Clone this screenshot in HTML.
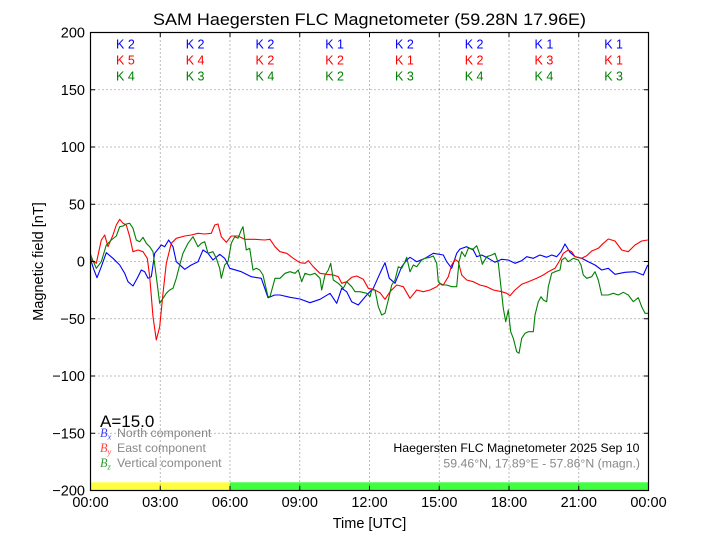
<!DOCTYPE html>
<html><head><meta charset="utf-8"><style>
html,body{margin:0;padding:0;background:#fff;}
svg{display:block;font-family:"Liberation Sans",Arial,sans-serif;}
</style></head><body>
<svg width="720" height="540" viewBox="0 0 720 540" xmlns="http://www.w3.org/2000/svg">
<rect width="720" height="540" fill="#fff"/>
<!-- status bar -->
<rect x="90.5" y="482.3" width="139.5" height="8.2" fill="#ffff40"/>
<rect x="230" y="482.3" width="418.5" height="8.2" fill="#40ff40"/>
<!-- grid -->
<g stroke="#555" stroke-width="0.8" stroke-dasharray="1,3" fill="none">
<line x1="160.25" y1="32.5" x2="160.25" y2="490.5"/>
<line x1="230" y1="32.5" x2="230" y2="490.5"/>
<line x1="299.75" y1="32.5" x2="299.75" y2="490.5"/>
<line x1="369.5" y1="32.5" x2="369.5" y2="490.5"/>
<line x1="439.25" y1="32.5" x2="439.25" y2="490.5"/>
<line x1="509" y1="32.5" x2="509" y2="490.5"/>
<line x1="578.75" y1="32.5" x2="578.75" y2="490.5"/>
<line x1="90.5" y1="89.75" x2="648.5" y2="89.75"/>
<line x1="90.5" y1="147" x2="648.5" y2="147"/>
<line x1="90.5" y1="204.25" x2="648.5" y2="204.25"/>
<line x1="90.5" y1="261.5" x2="648.5" y2="261.5"/>
<line x1="90.5" y1="318.75" x2="648.5" y2="318.75"/>
<line x1="90.5" y1="376" x2="648.5" y2="376"/>
<line x1="90.5" y1="433.25" x2="648.5" y2="433.25"/>
</g>
<!-- K indices -->
<g font-size="12.5" text-anchor="middle">
<g fill="#0000ff">
<text x="125.4" y="48.5">K 2</text><text x="195.1" y="48.5">K 2</text><text x="264.9" y="48.5">K 2</text><text x="334.6" y="48.5">K 1</text>
<text x="404.4" y="48.5">K 2</text><text x="474.1" y="48.5">K 2</text><text x="543.9" y="48.5">K 1</text><text x="613.6" y="48.5">K 1</text>
</g>
<g fill="#ff0000">
<text x="125.4" y="64.7">K 5</text><text x="195.1" y="64.7">K 4</text><text x="264.9" y="64.7">K 2</text><text x="334.6" y="64.7">K 2</text>
<text x="404.4" y="64.7">K 1</text><text x="474.1" y="64.7">K 2</text><text x="543.9" y="64.7">K 3</text><text x="613.6" y="64.7">K 1</text>
</g>
<g fill="#008000">
<text x="125.4" y="80.7">K 4</text><text x="195.1" y="80.7">K 3</text><text x="264.9" y="80.7">K 4</text><text x="334.6" y="80.7">K 2</text>
<text x="404.4" y="80.7">K 3</text><text x="474.1" y="80.7">K 4</text><text x="543.9" y="80.7">K 4</text><text x="613.6" y="80.7">K 3</text>
</g>
</g>
<!-- data -->
<g fill="none" stroke-width="1.1" stroke-linejoin="round">
<polyline stroke="#0000ff" points="90.5,258 91.3,261.7 94,270 97,277.7 101.3,266.7 106.3,252.7 113,258.3 119.7,265 124.7,273.3 128,281.7 133,286 138,276.7 141.3,270 144.7,271.7 148,278.3 151.3,276.7 154.7,253.3 161.3,245 164.7,246.7 168.7,240 173,246.7 176.3,261.7 184.7,269.3 191.3,265 198,261.7 203,250 208,253.3 213,260 219.7,254.3 224.7,258.3 229.7,268.3 241.3,271.7 251.3,276.7 261.3,278.3 268,297.7 274.7,295 280,295 290,297.3 300,299 310,302.7 320,299.3 330,293.3 336.7,303.3 341.7,288.3 346.7,291.7 351.7,301.7 358.3,305 366.7,295 373.3,288.3 380,273.3 385,262.7 389.3,278.3 395,283.3 401.7,266.7 406.7,260 410,257.3 416.7,261.7 425,258.3 433.3,253.3 443.3,255 446.7,261.7 451.7,268.3 456.7,253.3 460,249 466.7,246.7 473.3,250 476.7,256.7 481.7,255 488.3,258.3 495,262.3 501.7,259.3 508.3,260 515,263.3 521.7,260.7 526.7,256.7 533.3,258.3 540,255 546.7,257.3 551.7,255 556.7,256.7 561,251.7 565,244 570,252.3 575,256.7 581.7,258.3 588.3,261.7 595,265 601.7,270 608.3,268.3 615,274.3 625,272.3 635,271.7 643.3,275 647.7,265"/>
<polyline stroke="#ff0000" points="90.5,258 91.3,260 96.3,263.3 101.3,240 104.7,235 108,246.7 113,235 116.3,225 119.7,219.3 123,223.3 126.3,225 129.7,236.7 133,251.7 138,250 143,251.7 147.3,258.3 149.7,276.7 153,316.7 156.3,340 159.7,326.7 163,293.3 166.3,263.3 171.3,243.3 176.3,238.3 184.7,236 191.3,235 198,233.3 204.7,234 211.3,233.3 214.7,225 218,224 221.3,236.7 226.3,242.3 231.3,236 238,236 244.7,239.3 254.7,239.3 264.7,240 270,239.3 275,246.7 280,251.7 286.7,253.3 293.3,258.3 300,262.7 305,263.3 308.3,260.7 313.3,266.7 320,273.3 326.7,274.3 333.3,275 338.3,276.7 341.7,283.3 346.7,281.7 351.7,277.3 356.7,276 363.3,279.3 368.3,288.3 373.3,289.3 380,292.7 385,299.3 390,291.7 396.7,285 403.3,286.7 410,298.3 416.7,290 423.3,291.7 430,290 436.7,286.7 440,283.3 443.3,285 448.3,276.7 451.7,265 455,259.3 458.3,261.7 461.7,275 466.7,280 473.3,281.7 480,285 486.7,286.7 493.3,290 501.7,291.7 506.7,293.3 510,295.7 515,290 521.7,284.3 528.3,281.7 536.7,278.3 543.3,275 548.3,271.7 555,268.3 560,260 563.3,253.3 568.3,250 571.7,251.7 575,256.7 581.7,258.3 586.7,255.7 591.7,251 598.3,248.3 603.3,243.3 608.3,239 615,241 621.7,250 628.3,251.7 635,245 641.7,241 647.7,240"/>
<polyline stroke="#008000" points="90.5,254 91.3,256.7 96.3,268.3 101.3,261.7 106.3,245 111.3,240 116.3,236 119.7,226.7 123,226 126.3,224 129.7,223.3 133,228.3 136.3,240 139.7,241.7 143,237.3 146.3,243.3 149.7,246.7 153,251.7 156.3,276.7 159.7,303.3 163,298.3 166.3,293.3 169.7,290 173,288.3 176.3,278.3 179.7,265 183,253.3 188,243.3 193,236.7 198,246.7 201.3,243.3 204.7,241.7 208,253.3 213,251.7 216.3,258.3 219.7,268.3 221.3,278.3 224.7,265 228,261.7 231.3,243.3 234.7,236.7 238,238.3 241.3,230 243,226.7 246.3,250 249.7,248.3 253,270 256.3,268.3 259.7,270 263,275 268,296.7 270,296.7 275,278.3 280,278.3 285,273.3 290,271.7 295,273.3 298.3,270 301.7,281.7 305,273.3 310,275 315,273.3 320,278.3 321.7,290 325,275 328.3,270 330.7,263.3 333.3,280 338.3,283.3 343.3,288.3 346.7,281.7 351.7,286.7 355,291.7 360,291.7 366.7,293.3 370,296.7 371.7,290 375,290 378.3,306.7 381.7,315 385,313.3 388.3,300 391.7,285 395,280 398.3,266.7 401.7,268.3 405,261.7 406.7,257.3 410,271.7 413.3,265 416.7,266.7 421.7,260 425,258.3 430,257.3 433.3,256 436.7,263.3 438.3,281.7 441.7,285 446.7,285 451.7,286.7 455,286.7 456.7,286.7 459,261.7 461.7,251.7 465,256.7 468.3,248.3 473.3,249 476.7,245.7 480,255 482.3,264.3 486.7,256.7 491.7,255 495,253.3 498.3,263.3 500,278.3 503.3,308.3 505.7,321.7 508.3,310 510.7,331.7 513.3,338.3 516.7,351.7 519,353.3 521.7,338.3 525,333.3 528.3,331.7 533.3,331.7 535,315 538.3,301.7 541,296.7 543.3,300 546.7,301.7 548.3,286.7 551.7,273.3 555,271.7 560,270 561.7,260 565,257.7 568.3,261.7 573.3,258.3 578.3,260 581,265 583.3,275 586.7,278.3 591.7,276.7 595,271.7 598.3,280 601.7,295 608.3,295 613.3,293.3 618.3,295 623.3,292.3 628.3,295 633.3,301.7 638.3,297.7 641.7,306.7 645,313.3 648.5,313.3"/>
</g>
<!-- axes frame -->
<rect x="90.5" y="32.5" width="558" height="458" fill="none" stroke="#000" stroke-width="1.2"/>
<!-- ticks -->
<g stroke="#000" stroke-width="1">
<line x1="90.5" y1="89.75" x2="95" y2="89.75"/><line x1="90.5" y1="147" x2="95" y2="147"/><line x1="90.5" y1="204.25" x2="95" y2="204.25"/><line x1="90.5" y1="261.5" x2="95" y2="261.5"/><line x1="90.5" y1="318.75" x2="95" y2="318.75"/><line x1="90.5" y1="376" x2="95" y2="376"/><line x1="90.5" y1="433.25" x2="95" y2="433.25"/>
<line x1="648.5" y1="89.75" x2="644" y2="89.75"/><line x1="648.5" y1="147" x2="644" y2="147"/><line x1="648.5" y1="204.25" x2="644" y2="204.25"/><line x1="648.5" y1="261.5" x2="644" y2="261.5"/><line x1="648.5" y1="318.75" x2="644" y2="318.75"/><line x1="648.5" y1="376" x2="644" y2="376"/><line x1="648.5" y1="433.25" x2="644" y2="433.25"/>
<line x1="160.25" y1="490.5" x2="160.25" y2="486"/><line x1="230" y1="490.5" x2="230" y2="486"/><line x1="299.75" y1="490.5" x2="299.75" y2="486"/><line x1="369.5" y1="490.5" x2="369.5" y2="486"/><line x1="439.25" y1="490.5" x2="439.25" y2="486"/><line x1="509" y1="490.5" x2="509" y2="486"/><line x1="578.75" y1="490.5" x2="578.75" y2="486"/>
<line x1="160.25" y1="32.5" x2="160.25" y2="37"/><line x1="230" y1="32.5" x2="230" y2="37"/><line x1="299.75" y1="32.5" x2="299.75" y2="37"/><line x1="369.5" y1="32.5" x2="369.5" y2="37"/><line x1="439.25" y1="32.5" x2="439.25" y2="37"/><line x1="509" y1="32.5" x2="509" y2="37"/><line x1="578.75" y1="32.5" x2="578.75" y2="37"/>
</g>
<!-- y tick labels -->
<g font-size="14.5" text-anchor="end" fill="#000">
<text x="85" y="37.5">200</text>
<text x="85" y="94.8">150</text>
<text x="85" y="152">100</text>
<text x="85" y="209.3">50</text>
<text x="85" y="266.5">0</text>
<text x="85" y="323.8">−50</text>
<text x="85" y="381">−100</text>
<text x="85" y="438.3">−150</text>
<text x="85" y="495.5">−200</text>
</g>
<!-- x tick labels -->
<g font-size="14.5" text-anchor="middle" fill="#000">
<text x="90.5" y="507">00:00</text>
<text x="160.25" y="507">03:00</text>
<text x="230" y="507">06:00</text>
<text x="299.75" y="507">09:00</text>
<text x="369.5" y="507">12:00</text>
<text x="439.25" y="507">15:00</text>
<text x="509" y="507">18:00</text>
<text x="578.75" y="507">21:00</text>
<text x="648.5" y="507">00:00</text>
</g>
<text x="369.5" y="528" font-size="14.5" text-anchor="middle">Time [UTC]</text>
<text x="0" y="0" font-size="14.5" text-anchor="middle" transform="translate(43,261.5) rotate(-90)">Magnetic field [nT]</text>
<text x="369.5" y="25" font-size="17" text-anchor="middle" textLength="433" lengthAdjust="spacingAndGlyphs">SAM Haegersten FLC Magnetometer (59.28N 17.96E)</text>
<!-- A index and legend -->
<text x="100" y="427" font-size="17" fill="#000">A=15.0</text>
<g font-size="12.3" fill="#888">
<text x="100" y="437" font-family="'Liberation Serif',serif" font-style="italic" fill="#4444ff">B<tspan font-size="8.5" dy="2.5">x</tspan></text>
<text x="117" y="437">North component</text>
<text x="100" y="452" font-family="'Liberation Serif',serif" font-style="italic" fill="#ff4444">B<tspan font-size="8.5" dy="2.5">y</tspan></text>
<text x="117" y="452">East component</text>
<text x="100" y="467" font-family="'Liberation Serif',serif" font-style="italic" fill="#339933">B<tspan font-size="8.5" dy="2.5">z</tspan></text>
<text x="117" y="467">Vertical component</text>
</g>
<text x="639.5" y="452" font-size="12.3" text-anchor="end" fill="#000">Haegersten FLC Magnetometer 2025 Sep 10</text>
<text x="640" y="467.5" font-size="12.3" text-anchor="end" fill="#888">59.46°N, 17.89°E - 57.86°N (magn.)</text>
</svg>
</body></html>
